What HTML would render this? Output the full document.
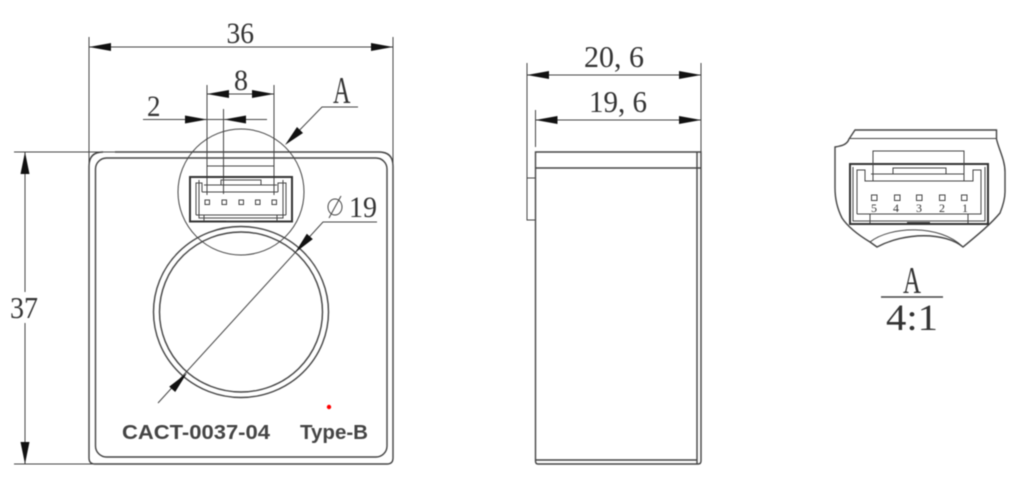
<!DOCTYPE html>
<html>
<head>
<meta charset="utf-8">
<style>
html,body{margin:0;padding:0;background:#fff;}
body{width:1012px;height:478px;overflow:hidden;}
svg{display:block;filter:blur(0.55px);}
text{font-family:"Liberation Serif",serif;fill:#333;}
.s{font-family:"Liberation Sans",sans-serif;font-weight:bold;fill:#444;}
.l{fill:none;stroke:#444;stroke-width:1;}
.m{fill:none;stroke:#444;stroke-width:1.4;}
.h{fill:none;stroke:#333;stroke-width:2;}
.a{fill:#111;stroke:none;}
</style>
</head>
<body>
<svg width="1012" height="478" viewBox="0 0 1012 478" xmlns="http://www.w3.org/2000/svg">
<!-- Front view body -->
<path class="m" d="M115 152H379Q393 152 393 166V458Q393 464 387 464H95Q89 464 89 458V166Q89 152 103 152"/>
<rect class="m" x="95.5" y="158" width="291.500" height="299" rx="11"/>
<!-- Dim 36 -->
<path class="l" d="M89 37V170M393 37V170M89 47H393"/>
<path class="a" d="M89 47l22-4v8zM393 47l-22-4v8z"/>
<text x="226.500" y="43" font-size="30" textLength="27.500" lengthAdjust="spacingAndGlyphs">36</text>
<!-- Dim 37 -->
<path class="l" d="M14 152H115M14 464H120M25 152V292M25 323V464"/>
<path class="a" d="M25 152l-4.500 22h9zM25 464l-4.500-22h9z"/>
<text x="10" y="318" font-size="31" textLength="28" lengthAdjust="spacingAndGlyphs">37</text>
<!-- Dim 8 / 2 -->
<path class="l" d="M207 85V195M274 85V195M207 94H274M223.500 109V194M143 119.500H267"/>
<path class="a" d="M207 94l22-4v8zM274 94l-22-4v8zM207 119.500l-22-4v8zM224 119.500l22-4v8z"/>
<text x="234" y="90" font-size="30" textLength="14" lengthAdjust="spacingAndGlyphs">8</text>
<text x="147" y="116" font-size="30" textLength="13.500" lengthAdjust="spacingAndGlyphs">2</text>
<!-- Detail circle A -->
<circle class="l" cx="241" cy="192" r="63"/>
<path class="l" d="M290 140L322 107H358"/>
<path class="a" d="M285 145L297 127L303 133Z"/>
<text x="333" y="103" font-size="38" textLength="17.500" lengthAdjust="spacingAndGlyphs">A</text>
<!-- Connector in front view -->
<rect class="h" x="190" y="177" width="102" height="44.500"/>
<path class="l" d="M196 215V183H202V192M286 215V183H278V192M196 215H286M199 180V218H283V180M202 192H278M204 185H277M207 166H274M221 185V180H261V185M204 215V221M277 215V221M226 221H254"/>
<g class="l">
<rect x="205" y="200" width="4.500" height="4.500"/><rect x="222" y="200" width="4.500" height="4.500"/><rect x="239" y="200" width="4.500" height="4.500"/><rect x="255.500" y="200" width="4.500" height="4.500"/><rect x="272" y="200" width="4.500" height="4.500"/>
</g>
<!-- Big hole -->
<ellipse class="m" cx="241" cy="312" rx="87.500" ry="85.500"/>
<ellipse class="m" cx="241" cy="312" rx="81.500" ry="80"/>
<!-- Dim phi19 -->
<path class="l" d="M158 403L323 222H377"/>
<path class="a" d="M187 373L175.200 392L169.200 386.600ZM295 252.700L312.800 239.100L306.800 233.700Z"/>
<ellipse class="l" cx="335" cy="207" rx="7" ry="8"/>
<path class="l" d="M329 218L341 196"/>
<text x="349" y="217" font-size="30" textLength="28" lengthAdjust="spacingAndGlyphs">19</text>
<!-- Labels -->
<text class="s" x="122" y="439" font-size="20" textLength="148" lengthAdjust="spacingAndGlyphs">CACT-0037-04</text>
<text class="s" x="300" y="439" font-size="20" textLength="68" lengthAdjust="spacingAndGlyphs">Type-B</text>
<circle cx="329" cy="407" r="2.200" fill="#f00"/>

<!-- Side view -->
<path class="l" d="M527 63V220H535M527 178H535M701 63V190M535.500 110V147M527 75H701M535.500 120H701"/>
<path class="a" d="M527 75l22-4v8zM701 75l-22-4v8zM535.500 120l22-4v8zM701 120l-22-4v8z"/>
<text x="584" y="67" font-size="31" textLength="60" lengthAdjust="spacingAndGlyphs">20, 6</text>
<text x="589" y="112" font-size="31" textLength="58" lengthAdjust="spacingAndGlyphs">19, 6</text>
<path class="m" d="M535.500 152H701V461Q701 464 698 464H538Q535.500 464 535.500 461Z"/>
<path class="m" d="M535.500 168H701M697 152V464M535.500 460H697"/>

<!-- Detail view -->
<path class="m" d="M855 130H996.500V139C999 150 1005 160 1005 172V192C1005 200 1002 208 1000 213C990 225 975 237 963 247C945 232 905 232 877 247L870 242C860 236 848 227 842 218C837 208 835 198 835 188V147C841 146 847 145 849 139Z"/>
<path class="l" d="M849 138.500H996.500M870 242C890 226 940 224 963 247"/>
<rect class="h" x="850" y="164" width="138" height="60"/>
<path class="l" d="M853 167V221H985V167M857 214V170H865V181H973V170H981V214H857M873 163V151H964V163M873 163V181M964 163V181M871 174H964M893 174V168H946V174M870 214V223M968 214V223"/>
<path class="h" d="M907 223H930"/>
<g class="l">
<rect x="871.500" y="195" width="5.500" height="5.500"/><rect x="894.500" y="195" width="5.500" height="5.500"/><rect x="916.500" y="195" width="5.500" height="5.500"/><rect x="939.500" y="195" width="5.500" height="5.500"/><rect x="961.500" y="195" width="5.500" height="5.500"/>
</g>
<g font-size="12" text-anchor="middle">
<text x="874" y="212">5</text><text x="896" y="212">4</text><text x="919" y="212">3</text><text x="942" y="212">2</text><text x="965" y="212">1</text>
</g>
<text x="903" y="293" font-size="38" textLength="18" lengthAdjust="spacingAndGlyphs">A</text>
<path class="m" d="M881 297H943"/>
<text x="886" y="330" font-size="37" textLength="52" lengthAdjust="spacingAndGlyphs">4:1</text>
</svg>
</body>
</html>
